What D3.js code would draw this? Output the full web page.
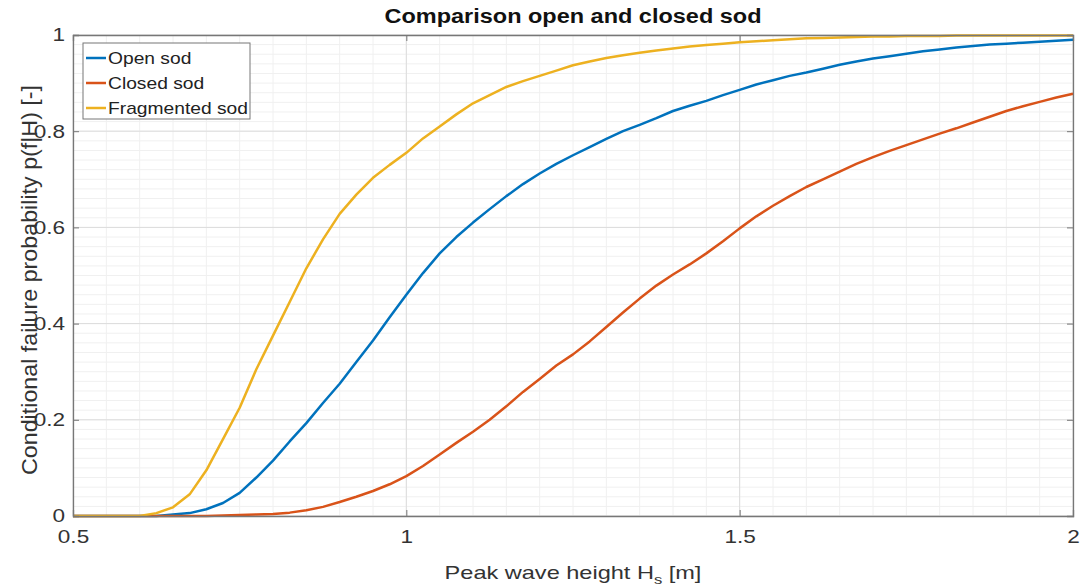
<!DOCTYPE html>
<html><head><meta charset="utf-8">
<script src="https://cdn.jsdelivr.net/npm/d3@7"></script>
<style>body{margin:0;background:#fff}svg{display:block;font-family:"Liberation Sans",Arial,sans-serif}</style>
</head><body><svg id="c" width="1080" height="586"></svg>
<script>
const hs = [0.5,0.525,0.55,0.575,0.6,0.625,0.65,0.675,0.7,0.725,0.75,0.775,0.8,0.825,0.85,0.875,0.9,0.925,0.95,0.975,1.0,1.025,1.05,1.075,1.1,1.125,1.15,1.175,1.2,1.225,1.25,1.275,1.3,1.325,1.35,1.375,1.4,1.425,1.45,1.475,1.5,1.525,1.55,1.575,1.6,1.625,1.65,1.675,1.7,1.725,1.75,1.775,1.8,1.825,1.85,1.875,1.9,1.925,1.95,1.975,2.0];
const openSod = [0,0,0,0,0,0,0.003,0.006,0.014,0.027,0.048,0.08,0.115,0.155,0.193,0.235,0.275,0.32,0.365,0.413,0.46,0.505,0.546,0.58,0.61,0.638,0.665,0.69,0.712,0.732,0.75,0.767,0.784,0.8,0.813,0.827,0.842,0.853,0.863,0.875,0.886,0.897,0.906,0.915,0.922,0.93,0.938,0.945,0.951,0.956,0.961,0.966,0.97,0.974,0.977,0.98,0.982,0.984,0.986,0.988,0.99];
const closedSod = [0,0,0,0,0,0,0,0,0,0.001,0.002,0.003,0.004,0.007,0.012,0.019,0.029,0.04,0.052,0.066,0.083,0.104,0.128,0.152,0.175,0.2,0.228,0.258,0.285,0.313,0.336,0.363,0.393,0.423,0.452,0.479,0.502,0.523,0.546,0.571,0.598,0.623,0.645,0.665,0.684,0.7,0.716,0.732,0.746,0.759,0.771,0.783,0.795,0.806,0.818,0.83,0.842,0.852,0.861,0.87,0.878];
const fragSod = [0,0,0,0,0,0.006,0.018,0.045,0.095,0.16,0.225,0.305,0.375,0.445,0.515,0.575,0.628,0.668,0.703,0.73,0.755,0.785,0.81,0.835,0.858,0.875,0.892,0.904,0.915,0.926,0.937,0.945,0.952,0.958,0.963,0.968,0.972,0.976,0.979,0.982,0.985,0.987,0.989,0.991,0.993,0.994,0.995,0.996,0.997,0.997,0.998,0.998,0.998,0.999,0.999,0.999,0.999,0.999,0.999,0.999,0.999];
const seriesNames = ["Open sod","Closed sod","Fragmented sod"];
const seriesColors = ["#0072BD","#D95319","#EDB120"];
const xTicks = [0.5,1,1.5,2];
const yTicks = [0,0.2,0.4,0.6,0.8,1];

const svg = d3.select("#c");
const m = {l:73,t:35,r:7,b:70};
const W = 1080, H = 586;
const x = d3.scaleLinear().domain([0.5,2]).range([m.l, W-m.r]);
const y = d3.scaleLinear().domain([0,1]).range([H-m.b, m.t]);
const g = svg.append("g");
const cx = (x(0.5)+x(2))/2;

function stretchBy(sel, f){
  sel.each(function(){ const w=this.getComputedTextLength(); d3.select(this).attr("textLength", w*f).attr("lengthAdjust","spacingAndGlyphs"); });
}
function stretchTo(sel, target){
  sel.each(function(){ d3.select(this).attr("textLength", target).attr("lengthAdjust","spacingAndGlyphs"); });
}

// minor grid
const xMinor = d3.range(0.5,2.0001,0.05);
const yMinor = d3.range(0,1.0001,0.02);
g.selectAll(".xm").data(xMinor).join("line").attr("x1",d=>x(d)).attr("x2",d=>x(d)).attr("y1",y(0)).attr("y2",y(1)).attr("stroke","#f0f0f0").attr("stroke-width",1);
g.selectAll(".ym").data(yMinor).join("line").attr("y1",d=>y(d)).attr("y2",d=>y(d)).attr("x1",x(0.5)).attr("x2",x(2)).attr("stroke","#f0f0f0").attr("stroke-width",1);
// major grid
g.selectAll(".xg").data(xTicks).join("line").attr("x1",d=>x(d)).attr("x2",d=>x(d)).attr("y1",y(0)).attr("y2",y(1)).attr("stroke","#dcdcdc").attr("stroke-width",1);
g.selectAll(".yg").data(yTicks).join("line").attr("y1",d=>y(d)).attr("y2",d=>y(d)).attr("x1",x(0.5)).attr("x2",x(2)).attr("stroke","#dcdcdc").attr("stroke-width",1);

// lines
const data = [openSod, closedSod, fragSod];
const line = d3.line().x((d,i)=>x(hs[i])).y(d=>y(d));
data.forEach((s,k)=>{
  g.append("path").datum(s).attr("d",line).attr("fill","none").attr("stroke",seriesColors[k]).attr("stroke-width",2.5).attr("stroke-linejoin","round");
});

// axes box
const axCol = "#777";
const xAxB = d3.axisBottom(x).tickValues(xTicks).tickSize(-6).tickFormat(d3.format("")).tickPadding(14);
svg.append("g").attr("class","ax").attr("transform",`translate(0,${y(0)})`).call(xAxB);
const xAxT = d3.axisTop(x).tickValues(xTicks).tickSize(-6).tickFormat("");
svg.append("g").attr("transform",`translate(0,${y(1)})`).call(xAxT);
const yAxL = d3.axisLeft(y).tickValues(yTicks).tickSize(-6).tickFormat(d3.format("")).tickPadding(8);
svg.append("g").attr("class","ax").attr("transform",`translate(${x(0.5)},0)`).call(yAxL);
const yAxR = d3.axisRight(y).tickValues(yTicks).tickSize(-6).tickFormat("");
svg.append("g").attr("transform",`translate(${x(2)},0)`).call(yAxR);
svg.selectAll(".domain").attr("stroke",axCol).attr("stroke-width",1.3);
svg.selectAll(".tick line").attr("stroke",axCol);
svg.selectAll(".tick text").attr("font-size",18.5).attr("fill","#333").attr("font-family","Liberation Sans, Arial, sans-serif");
stretchBy(svg.selectAll(".ax .tick text"), 1.22);

// title
const tt = svg.append("text").attr("x",cx).attr("y",23).attr("text-anchor","middle").attr("font-size",20).attr("font-weight","bold").attr("fill","#111").text("Comparison open and closed sod");
stretchTo(tt, 377);

// x label (stretched horizontally via scale)
const xlg = svg.append("g");
const xl = xlg.append("text").attr("x",0).attr("y",0).attr("text-anchor","middle").attr("font-size",18.5).attr("fill","#333");
xl.append("tspan").text("Peak wave height H");
xl.append("tspan").attr("font-size",13).attr("dy",5).text("s");
xl.append("tspan").attr("dy",-5).text(" [m]");
const xlw = xl.node().getBBox().width;
xlg.attr("transform",`translate(${cx},579) scale(${257/xlw},1)`);

// y label
const ylab = svg.append("text").attr("transform",`translate(37,280) scale(1.2,1) rotate(-90)`).attr("text-anchor","middle").attr("font-size",18.5).attr("fill","#333").text("Conditional failure probability p(f|H) [-]");
stretchTo(ylab, 390);

// legend
const lg = svg.append("g").attr("transform","translate(83,43)");
lg.append("rect").attr("width",167).attr("height",76).attr("fill","#fff").attr("stroke","#777").attr("stroke-width",1);
const legTexts = [];
seriesNames.forEach((n,i)=>{
  const yy = 15 + i*25;
  lg.append("line").attr("x1",3).attr("x2",23).attr("y1",yy).attr("y2",yy).attr("stroke",seriesColors[i]).attr("stroke-width",2.5);
  legTexts.push(lg.append("text").attr("x",25).attr("y",yy+6).attr("font-size",17).attr("fill","#222").text(n).node());
});
const wMax = legTexts[2].getComputedTextLength();
stretchBy(d3.selectAll(legTexts), 140/wMax);
</script></body></html>
